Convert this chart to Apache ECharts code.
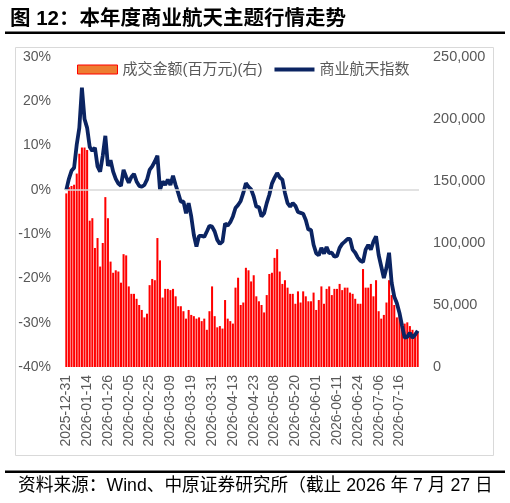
<!DOCTYPE html>
<html>
<head>
<meta charset="utf-8">
<script src="https://cdn.jsdelivr.net/npm/echarts@6/dist/echarts.min.js"></script>
<style>
  html, body { margin: 0; padding: 0; background: #fff; }
  #chart { width: 510px; height: 503px; }
</style>
</head>
<body>
<div id="chart"></div>
<script>
// 交易日
const dates = [
  '2025-12-31',
  '2026-01-05','2026-01-06','2026-01-07','2026-01-08','2026-01-09',
  '2026-01-12','2026-01-13','2026-01-14','2026-01-15','2026-01-16',
  '2026-01-19','2026-01-20','2026-01-21','2026-01-22','2026-01-23',
  '2026-01-26','2026-01-27','2026-01-28','2026-01-29','2026-01-30',
  '2026-02-02','2026-02-03','2026-02-04','2026-02-05','2026-02-06',
  '2026-02-09','2026-02-10','2026-02-11','2026-02-12','2026-02-13',
  '2026-02-24','2026-02-25','2026-02-26','2026-02-27',
  '2026-03-02','2026-03-03','2026-03-04','2026-03-05','2026-03-06',
  '2026-03-09','2026-03-10','2026-03-11','2026-03-12','2026-03-13',
  '2026-03-16','2026-03-17','2026-03-18','2026-03-19','2026-03-20',
  '2026-03-23','2026-03-24','2026-03-25','2026-03-26','2026-03-27',
  '2026-03-30','2026-03-31',
  '2026-04-01','2026-04-02','2026-04-03',
  '2026-04-07','2026-04-08','2026-04-09','2026-04-10',
  '2026-04-13','2026-04-14','2026-04-15','2026-04-16','2026-04-17',
  '2026-04-20','2026-04-21','2026-04-22','2026-04-23','2026-04-24',
  '2026-04-27','2026-04-28','2026-04-29','2026-04-30',
  '2026-05-06','2026-05-07','2026-05-08',
  '2026-05-11','2026-05-12','2026-05-13','2026-05-14','2026-05-15',
  '2026-05-18','2026-05-19','2026-05-20','2026-05-21','2026-05-22',
  '2026-05-25','2026-05-26','2026-05-27','2026-05-28','2026-05-29',
  '2026-06-01','2026-06-02','2026-06-03','2026-06-04','2026-06-05',
  '2026-06-08','2026-06-09','2026-06-10','2026-06-11','2026-06-12',
  '2026-06-15','2026-06-16','2026-06-17','2026-06-18',
  '2026-06-22','2026-06-23','2026-06-24','2026-06-25','2026-06-26',
  '2026-06-29','2026-06-30',
  '2026-07-01','2026-07-02','2026-07-03',
  '2026-07-06','2026-07-07','2026-07-08','2026-07-09','2026-07-10',
  '2026-07-13','2026-07-14','2026-07-15','2026-07-16','2026-07-17',
  '2026-07-20','2026-07-21','2026-07-22','2026-07-23','2026-07-24',
  '2026-07-27'
];

// 成交金额(百万元)
const turnover = [
  140000,145000,146000,147000,156000,172000,177000,177000,175000,118000,
  120000,96000,104000,81000,100000,137000,120000,85000,76000,78000,
  77000,68000,91000,90000,65000,59000,59000,55000,50000,46000,
  40000,43000,66000,71000,70000,104000,86000,56000,63000,63000,
  62000,63000,57000,49000,49000,45000,39000,46000,42000,41000,
  39000,40000,37000,39000,30000,45000,65000,41000,32000,33000,
  31000,54000,39000,37000,35000,64000,72000,50000,52000,80000,
  78000,69000,74000,57000,53000,50000,44000,58000,75000,76000,
  88000,95000,77000,67000,70000,64000,59000,59000,51000,61000,
  52000,61000,57000,53000,53000,60000,46000,54000,65000,51000,
  63000,65000,58000,63000,63000,67000,62000,64000,64000,60000,
  59000,55000,51000,51000,79000,64000,64000,67000,57000,70000,
  45000,39000,42000,52000,70000,58000,50000,40000,44000,30000,
  35000,36000,33000,30000,27000,28000
];

// 商业航天指数 累计涨跌幅(%)
const indexPct = [
  0,2.5,4.3,5.0,10.2,14.0,23.1,16.0,14.0,9.7,
  8.8,9.5,5.3,4.1,7.7,12.2,5.4,6.7,4.1,2.5,
  1.4,0.9,4.5,2.9,1.6,2.9,3.6,1.9,0.9,0.7,
  1.1,2.3,4.5,5.3,6.4,7.7,0,1.9,1.1,2.3,
  1.1,3.2,1.1,-0.7,-2.7,-2.6,-5.3,-3.0,-6.0,-10.2,
  -12.8,-10.4,-10.4,-10.6,-9.4,-8.1,-8.3,-9.4,-11.3,-12.2,
  -11.7,-7.6,-8.1,-7.3,-6.0,-4.1,-3.4,-2.5,-0.7,1.5,
  0.7,0.1,-1.5,-3.8,-3.9,-6.0,-5.3,-3.0,-1.1,1.4,
  2.7,3.8,2.8,2.3,-0.7,-3.0,-3.8,-3.0,-3.6,-5.0,
  -5.2,-5.4,-6.8,-9.0,-9.0,-12.4,-14.3,-14.8,-13.1,-14.4,
  -12.9,-14.3,-14.2,-15.1,-14.9,-13.1,-12.2,-11.7,-11.1,-11.1,
  -13.5,-14.2,-15.3,-16.0,-16.3,-13.5,-12.4,-13.5,-11.7,-10.5,
  -14.7,-17.3,-19.9,-17.6,-14.2,-21.0,-24.1,-25.6,-27.8,-30.7,
  -33.4,-33.2,-32.3,-33.4,-32.7,-31.8
];

const FONT = '"Liberation Sans", "Noto Sans CJK SC", sans-serif';
const GREY = '#595959';
const NAVY = '#0B2462';

const chart = echarts.init(document.getElementById('chart'), null, { renderer: 'canvas' });

const option = {
  animation: false,
  title: {
    text: '图 12：本年度商业航天主题行情走势',
    left: 5,
    top: 4,
    textStyle: { fontFamily: FONT, fontSize: 20.5, fontWeight: 'bold', color: '#000' }
  },
  graphic: [
    { type: 'rect', shape: { x: 5, y: 31.5, width: 500, height: 2.5 }, style: { fill: '#000' } },
    { type: 'rect', shape: { x: 15.5, y: 47.5, width: 478, height: 408 },
      style: { fill: 'none', stroke: '#D9D9D9', lineWidth: 1 } },
    { type: 'rect', shape: { x: 5, y: 470.5, width: 500, height: 2.5 }, style: { fill: '#000' } },
    { type: 'text', left: 18, top: 477,
      style: { text: '资料来源：Wind、中原证券研究所（截止 2026 年 7 月 27 日',
               fontFamily: FONT, fontSize: 17.7, fill: '#000' } }
  ],
  legend: {
    left: 72,
    top: 57,
    itemWidth: 40,
    itemHeight: 9,
    itemGap: 10,
    textStyle: { fontFamily: FONT, fontSize: 15, color: GREY },
    data: [
      { name: '成交金额(百万元)(右)', icon: 'rect',
        itemStyle: { color: '#ED7D31', borderColor: '#FF0000', borderWidth: 1 } },
      { name: '商业航天指数',
        itemStyle: { opacity: 0 },
        lineStyle: { width: 4, color: NAVY } }
    ]
  },
  grid: { left: 65, right: 91, top: 57, bottom: 136 },
  xAxis: {
    type: 'category',
    data: dates,
    axisLine: { show: false },
    axisTick: { show: false },
    axisLabel: {
      interval: 7,
      rotate: 90,
      margin: 8,
      fontFamily: FONT,
      fontSize: 14,
      color: GREY
    }
  },
  yAxis: [
    {
      type: 'value',
      min: -40,
      max: 30,
      interval: 10,
      axisLine: { show: false },
      axisTick: { show: false },
      splitLine: { show: false },
      axisLabel: { formatter: '{value}%', margin: 14, fontFamily: FONT, fontSize: 14, color: GREY }
    },
    {
      type: 'value',
      min: 0,
      max: 250000,
      interval: 50000,
      axisLine: { show: false },
      axisTick: { show: false },
      splitLine: { show: false },
      axisLabel: {
        margin: 14,
        fontFamily: FONT,
        fontSize: 14.5,
        color: GREY,
        formatter: v => v.toLocaleString('en-US')
      }
    }
  ],
  series: [
    {
      name: '成交金额(百万元)(右)',
      type: 'bar',
      yAxisIndex: 1,
      data: turnover,
      barCategoryGap: '22%',
      itemStyle: { color: '#FF0000' }
    },
    {
      name: '商业航天指数',
      type: 'line',
      yAxisIndex: 0,
      data: indexPct,
      symbol: 'none',
      lineStyle: { color: NAVY, width: 3.8 },
      itemStyle: { color: NAVY },
      markLine: {
        silent: true,
        symbol: 'none',
        label: { show: false },
        lineStyle: { color: '#D9D9D9', width: 1.5, type: 'solid' },
        data: [{ yAxis: 0 }]
      },
      z: 3
    }
  ]
};

chart.setOption(option);
</script>
</body>
</html>
